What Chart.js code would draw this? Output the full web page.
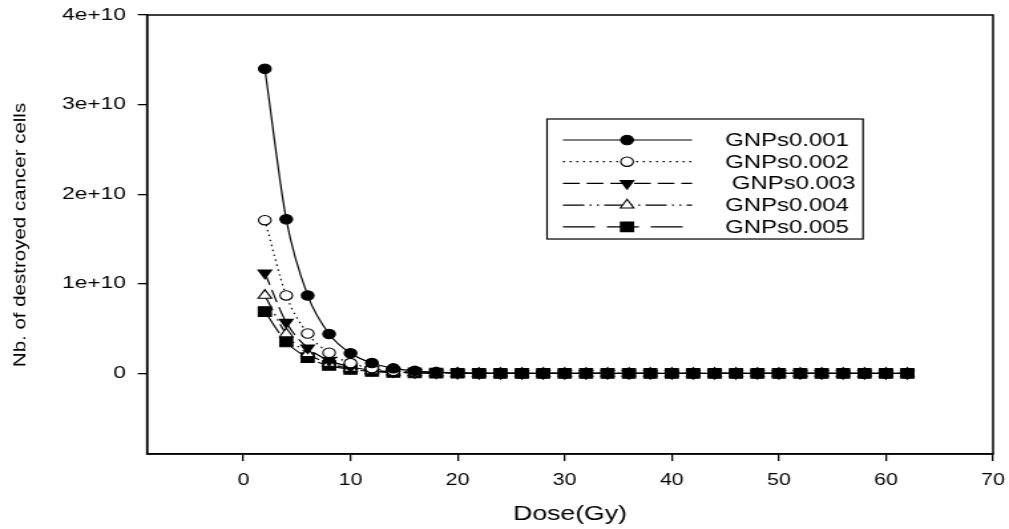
<!DOCTYPE html>
<html>
<head>
<meta charset="utf-8">
<script src="https://cdn.jsdelivr.net/npm/chart.js@4.4.1/dist/chart.umd.min.js"></script>
<style>
  html, body { margin: 0; padding: 0; background: #fff; overflow: hidden; }
</style>
</head>
<body>
<!-- the original figure is stretched sideways, so the canvas is drawn narrow and widened by css -->
<canvas id="doseChart" width="759" height="529" style="width:1009px;height:529px;display:block"></canvas>
<script>
// dose values (Gy)
const doses = [2, 4, 6, 8, 10, 12, 14, 16, 18, 20, 22, 24, 26, 28, 30, 32, 34, 36, 38, 40, 42, 44, 46, 48, 50, 52, 54, 56, 58, 60, 62];

// destroyed cells
const gnps001 = [3.4e10, 1.72e10, 8.7e9, 4.4e9, 2.25e9, 1.15e9, 5.6e8, 2.8e8, 1.4e8, 7e7, 3.5e7, 1.7e7, 8.6e6, 4.3e6, 2.1e6, 1.1e6, 5.3e5, 2.7e5, 1.3e5, 6.6e4, 3.3e4, 1.6e4, 8.2e3, 4.1e3, 2.1e3, 1.0e3, 510, 260, 130, 64, 32];
const gnps002 = [1.71e10, 8.7e9, 4.45e9, 2.3e9, 1.15e9, 5.8e8, 2.9e8, 1.45e8, 7.2e7, 3.6e7, 1.8e7, 9e6, 4.5e6, 2.2e6, 1.1e6, 5.6e5, 2.8e5, 1.4e5, 7e4, 3.5e4, 1.7e4, 8.7e3, 4.3e3, 2.2e3, 1.1e3, 540, 270, 135, 68, 34, 17];
const gnps003 = [1.12e10, 5.7e9, 2.85e9, 1.45e9, 7.3e8, 3.7e8, 1.85e8, 9.2e7, 4.6e7, 2.3e7, 1.15e7, 5.8e6, 2.9e6, 1.45e6, 7.2e5, 3.6e5, 1.8e5, 9e4, 4.5e4, 2.3e4, 1.1e4, 5.6e3, 2.8e3, 1.4e3, 700, 350, 175, 88, 44, 22, 11];
const gnps004 = [8.7e9, 4.4e9, 2.2e9, 1.1e9, 5.5e8, 2.8e8, 1.4e8, 7e7, 3.5e7, 1.75e7, 8.7e6, 4.4e6, 2.2e6, 1.1e6, 5.5e5, 2.7e5, 1.4e5, 6.8e4, 3.4e4, 1.7e4, 8.5e3, 4.3e3, 2.1e3, 1.1e3, 530, 270, 133, 67, 33, 17, 8];
const gnps005 = [6.9e9, 3.5e9, 1.75e9, 8.8e8, 4.4e8, 2.2e8, 1.1e8, 5.5e7, 2.8e7, 1.4e7, 7e6, 3.5e6, 1.75e6, 8.7e5, 4.4e5, 2.2e5, 1.1e5, 5.5e4, 2.7e4, 1.4e4, 6.8e3, 3.4e3, 1.7e3, 850, 430, 215, 107, 54, 27, 13, 7];

const seriesNames = ['GNPs0.001', 'GNPs0.002', ' GNPs0.003', 'GNPs0.004', 'GNPs0.005'];
const xTicks = [0, 10, 20, 30, 40, 50, 60, 70];
const yTicks = [0, 1e10, 2e10, 3e10, 4e10];

const FONT = '"Liberation Sans", Arial, sans-serif';

const toPoints = arr => arr.map((v, i) => ({ x: doses[i], y: v }));

const styles = [
    { pointStyle: 'circle', bg: '#000', dash: [], radius: 4.7, rot: 0 },
    { pointStyle: 'circle', bg: '#fff', dash: [1.5, 3.5], radius: 4.7, rot: 0 },
    { pointStyle: 'triangle', bg: '#000', dash: [12.6, 5.2], radius: 5.8, rot: 180 },
    { pointStyle: 'triangle', bg: '#fff', dash: [16, 4, 1.5, 4, 1.5, 4], radius: 5.8, rot: 0 },
    { pointStyle: 'rect', bg: '#000', dash: [24, 9], radius: 6.8, rot: 0 }
];

const allSeries = [gnps001, gnps002, gnps003, gnps004, gnps005];

const datasets = allSeries.map((arr, i) => ({
    label: seriesNames[i],
    data: toPoints(arr),
    borderColor: '#000',
    borderWidth: 1.2,
    borderDash: styles[i].dash,
    pointStyle: styles[i].pointStyle,
    pointRotation: styles[i].rot,
    pointRadius: styles[i].radius,
    pointBackgroundColor: styles[i].bg,
    pointBorderColor: '#000',
    pointBorderWidth: 1.1,
    tension: 0.4,
    cubicInterpolationMode: 'monotone',
    fill: false
}));

// box around the plot area
const frame = {
    id: 'frame',
    afterDraw(chart) {
        const a = chart.chartArea;
        const c = chart.ctx;
        c.save();
        c.strokeStyle = '#000';
        c.lineWidth = 1.5;
        c.strokeRect(a.left, a.top, a.right - a.left, a.bottom - a.top);
        c.restore();
    }
};

// condensed, rotated y title like the original
const yTitle = {
    id: 'yTitle',
    afterDraw(chart) {
        const a = chart.chartArea;
        const c = chart.ctx;
        c.save();
        c.translate(15.3, (a.top + a.bottom) / 2 + 0.5);
        c.rotate(-Math.PI / 2);
        c.scale(1, 0.6);
        c.font = '20.5px ' + FONT;
        c.fillStyle = '#000';
        c.textAlign = 'center';
        c.textBaseline = 'middle';
        c.fillText('Nb. of destroyed cancer cells', 0, 0);
        c.restore();
    }
};

// SigmaPlot style legend: line sample with marker in the middle
const sampleLegend = {
    id: 'sampleLegend',
    afterDraw(chart) {
        const a = chart.chartArea;
        const c = chart.ctx;
        const w = a.right - a.left, h = a.bottom - a.top;
        const fx = f => a.left + f * w;
        const fy = f => a.top + f * h;
        const bx = fx(0.4728), by = fy(0.2369);
        const bw = fx(0.8463) - bx, bh = fy(0.5103) - by;
        c.save();
        c.fillStyle = '#fff';
        c.fillRect(bx, by, bw, bh);
        c.strokeStyle = '#000';
        c.lineWidth = 1.2;
        c.strokeRect(bx, by, bw, bh);
        c.font = '18px ' + FONT;
        c.textBaseline = 'middle';
        chart.data.datasets.forEach((ds, i) => {
            const y = fy(0.2847 + i * 0.04943);
            c.beginPath();
            c.setLineDash(ds.borderDash);
            c.lineWidth = 1.2;
            c.strokeStyle = '#000';
            c.moveTo(fx(0.4917), y);
            c.lineTo(fx(0.6442), y);
            c.stroke();
            c.setLineDash([]);
            c.fillStyle = ds.pointBackgroundColor;
            c.lineWidth = 1.1;
            Chart.helpers.drawPoint(c, {
                pointStyle: ds.pointStyle,
                rotation: ds.pointRotation,
                radius: ds.pointRadius,
                borderWidth: 1.1
            }, fx(0.5674), y);
            c.fillStyle = '#000';
            c.fillText(ds.label, fx(0.6832), y + 1);
        });
        c.restore();
    }
};

const ctx = document.getElementById('doseChart').getContext('2d');
const doseChart = new Chart(ctx, {
    type: 'line',
    data: { datasets: datasets },
    options: {
        responsive: false,
        animation: false,
        devicePixelRatio: 1,
        layout: { padding: { top: 15, right: 12, left: 0, bottom: 0 } },
        plugins: { legend: { display: false }, tooltip: { enabled: false } },
        scales: {
            x: {
                type: 'linear',
                min: -9,
                max: 70,
                afterBuildTicks: s => { s.ticks = xTicks.map(v => ({ value: v })); },
                afterFit: s => { s.height = 75; s.paddingLeft = 0; s.paddingRight = 0; },
                grid: { drawOnChartArea: false, drawTicks: true, tickLength: 7, color: '#000', lineWidth: 1.3 },
                border: { color: '#000', width: 1.5 },
                ticks: { color: '#000', padding: 10, font: { family: FONT, size: 16 }, maxRotation: 0 },
                title: { display: true, text: 'Dose(Gy)', color: '#000', padding: { top: 4, bottom: 3 }, font: { family: FONT, size: 20 } }
            },
            y: {
                type: 'linear',
                min: -9e9,
                max: 4e10,
                afterBuildTicks: s => { s.ticks = yTicks.map(v => ({ value: v })); },
                afterFit: s => { s.width = 110.6; s.paddingTop = 0; s.paddingBottom = 0; },
                grid: { drawOnChartArea: false, drawTicks: true, tickLength: 7, color: '#000', lineWidth: 1.3 },
                border: { color: '#000', width: 1.5 },
                ticks: {
                    color: '#000',
                    padding: 9,
                    font: { family: FONT, size: 17 },
                    callback: v => v === 0 ? '0' : (v / 1e10) + 'e+10'
                }
            }
        }
    },
    plugins: [frame, yTitle, sampleLegend]
});
</script>
</body>
</html>
